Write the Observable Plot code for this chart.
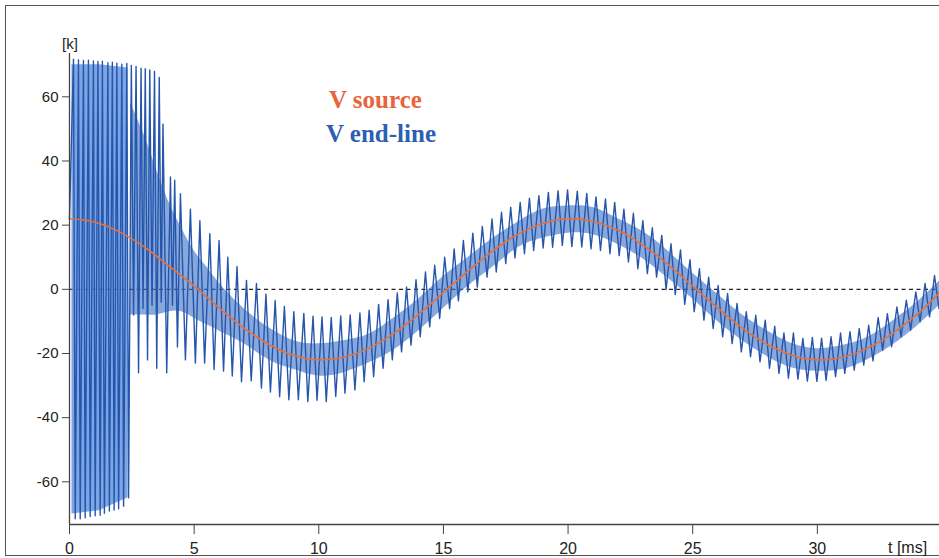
<!DOCTYPE html>
<html><head><meta charset="utf-8">
<script src="https://cdn.jsdelivr.net/npm/d3@7"></script>
<script src="https://cdn.jsdelivr.net/npm/@observablehq/plot@0.6"></script>
<style>
body{margin:0;background:#fff;}
#wrap{position:relative;width:939px;height:558px;overflow:hidden;font-family:"Liberation Sans",Arial,sans-serif;}
#frame{position:absolute;left:5px;top:5px;width:960px;height:549px;border:1.5px solid #555;border-right:none;}
.lg{position:absolute;font-family:"Liberation Serif","Times New Roman",serif;font-weight:bold;font-size:25px;line-height:1;white-space:nowrap;}
.ax{position:absolute;font-family:"Liberation Sans",Arial,sans-serif;line-height:1;color:#222;white-space:nowrap;}
#chart{position:absolute;left:0;top:0;}
</style></head><body>
<div id="wrap">
<div id="frame"></div>
<div id="chart"></div>
<div class="lg" style="left:329px;top:87px;color:#e8643c;">V source</div>
<div class="lg" style="left:326px;top:121px;color:#2d5fb0;">V end-line</div>
<div class="ax" style="left:62px;top:36px;font-size:15px;">[k]</div>
<div class="ax" style="left:888px;top:540px;font-size:16px;">t [ms]</div>
</div>
<script>
const xDomain = [0, 34.9];
const yDomain = [-73.3, 73.5];
const xTicks = [0, 5, 10, 15, 20, 25, 30];
const yTicks = [-60, -40, -20, 0, 20, 40, 60];

// V source (orange), read every 1 ms
const srcT = [0,1,2,3,4,5,6,7,8,9,10,11,12,13,14,15,16,17,18,19,20,21,22,23,24,25,26,27,28,29,30,31,32,33,34,34.9];
const srcV = [22.0,21.0,17.9,13.2,7.2,1.0,-5.8,-12.1,-17.2,-20.6,-22.0,-21.2,-18.4,-13.8,-7.8,-1.0,5.8,12.1,17.2,20.6,22.0,21.2,18.4,13.8,7.8,1.0,-5.8,-12.1,-17.2,-20.6,-22.0,-21.2,-18.4,-13.8,-7.8,-1.2];

// V end-line (blue): successive extremes
const blueT = [0,0.16,0.23,0.36,0.43,0.56,0.63,0.76,0.83,0.96,1.03,1.14,1.23,1.32,1.40,1.54,1.60,1.72,1.79,1.90,1.97,2.10,2.17,2.30,2.37,
2.48,2.57,2.67,2.77,2.87,2.95,3.04,3.13,3.22,3.31,3.41,3.50,3.60,3.68,3.75,3.90,4.05,4.13,4.22,4.33,4.45,
4.65,4.85,5.05,5.23,5.42,5.63,5.80,6.00,6.18,6.35,6.53,6.72,6.90,7.10,7.29,7.50,7.70,7.88,8.06,8.25,8.43,8.62,8.80,9.00,9.18,9.40,9.56,9.77,9.93,
10.13,10.30,10.50,10.68,10.88,11.05,11.26,11.45,11.65,11.82,12.02,12.20,12.40,12.58,12.78,12.95,13.15,13.32,13.52,13.70,13.90,14.07,14.28,14.45,14.65,14.85,
15.05,15.25,15.43,15.60,15.80,15.98,16.18,16.36,16.56,16.75,16.95,17.12,17.33,17.50,17.70,17.87,18.08,18.25,18.45,18.62,18.83,19.00,19.21,19.38,19.60,19.77,
19.98,20.15,20.37,20.55,20.75,20.92,21.12,21.30,21.50,21.68,21.87,22.05,22.24,22.42,22.62,22.80,23.00,23.18,23.38,23.55,23.76,23.93,24.13,24.30,24.51,24.68,
24.89,25.06,25.27,25.45,25.64,25.82,26.02,26.20,26.40,26.58,26.78,26.95,27.15,27.32,27.53,27.70,27.91,28.08,28.29,28.46,28.66,28.84,29.04,29.22,29.42,29.60,
29.80,29.98,30.17,30.35,30.55,30.73,30.93,31.10,31.31,31.48,31.68,31.86,32.06,32.23,32.44,32.62,32.81,32.98,33.19,33.36,33.57,33.74,33.95,34.12,34.32,34.50,34.70,34.88];
const blueV = [22,71.7,-71.5,71.5,-71.5,71.3,-71.2,71.4,-70.8,71.2,-70.6,71.0,-70.4,71.1,-69.8,70.6,-69.1,70.8,-68.8,70.5,-68.4,70.2,-67.6,70.4,-65.0,
69.8,-8,69.5,-26,68.9,-6,68.8,-22,68.4,-5,67.9,-24.6,66.0,-4,51.5,-26,35,-5,34,-18,29.8,
-22,25.0,-23,21.4,-23,17.3,-25,15.2,-25.5,10.0,-27,7.1,-28.8,2.8,-28.5,1.8,-30.8,-1.5,-32.0,-3.5,-33.5,-5.3,-34.4,-7.0,-34.4,-7.5,-35.0,-8.4,-34.6,
-8.6,-35.0,-8.8,-33.4,-8.3,-32.4,-8.0,-31.4,-7.4,-28.8,-6.5,-27.2,-4.7,-24.6,-3.2,-22.0,-1.1,-19.5,0.7,-17.4,3.0,-14.8,5.4,-11.7,7.5,-9.1,
10.0,-6.0,12.6,-3.6,15.2,-0.8,17.5,0.7,19.6,3.8,21.9,5.4,24.0,8.0,25.6,9.8,27.1,11.1,28.4,12.1,29.2,12.9,30.2,13.1,30.7,13.7,
31.0,13.3,30.6,13.2,29.9,12.6,28.8,12.1,28.2,11.1,27.1,10.5,25.0,8.5,23.7,6.4,21.4,4.9,19.2,3.8,16.8,-0.1,14.2,-1.6,12.3,-4.7,
9.2,-7.0,6.4,-9.6,3.8,-12.2,1.2,-14.8,-1.3,-16.9,-4.4,-19.5,-7.0,-21.0,-8.1,-22.6,-9.6,-24.6,-11.5,-26.2,-13.6,-27.7,-13.6,-28.0,-15.3,-28.6,
-15.0,-28.7,-15.2,-28.4,-14.8,-27.2,-13.6,-26.2,-13.2,-25.2,-12.2,-23.6,-11.2,-22.3,-8.8,-19.0,-7.6,-17.9,-5.5,-14.8,-3.4,-12.7,-0.8,-10.1,1.8,-8.6,4.3,-6.0];

// dense full-swing region of V end-line (lower / upper edge)
const earlyT  = [0.1, 1.2, 2.35];
const earlyLo = [-70, -69, -65];
const earlyHi = [70, 70, 69];

// dense fine oscillation band of V end-line (lower / upper edge)
const bandT  = [2.45,3.0,3.5,4.0,4.5,5.0,5.5,6.0,7,8,9,10,11,12,13,14,15,16,17,18,19,20,21,22,23,24,25,26,27,28,29,30,31,32,33,34,34.9];
const bandLo = [-8,-8,-8,-7,-7,-9,-11,-13,-17,-22,-25,-27,-26,-23,-19,-13,-6,1,7,13,16,17.5,17,14,9.5,3.5,-3,-10,-16,-21,-24.5,-25.5,-25,-22,-17.5,-11.5,-5];
const bandHi = [58,48,37,27,19,12,7,2,-6,-12,-16,-17,-16,-14,-9,-3,4,10,16,21,25,26,25.5,22,18,12,5,-1.5,-8,-13,-17,-18.5,-17.5,-15,-10,-4,2.5];

const srcRows = srcT.map((t, i) => ({t, v: srcV[i]}));
const blueRows = blueT.map((t, i) => ({t, v: blueV[i]}));
const earlyRows = earlyT.map((t, i) => ({t, lo: earlyLo[i], hi: earlyHi[i]}));
const bandRows = bandT.map((t, i) => ({t, lo: bandLo[i], hi: bandHi[i]}));
const fmt = d => String(d);

const chart = Plot.plot({
  width: 939, height: 558,
  marginLeft: 69, marginRight: 0, marginTop: 53, marginBottom: 34,
  style: {fontFamily: '"Liberation Sans", Arial, sans-serif', fontSize: "15px", color: "#222", background: "transparent", overflow: "visible"},
  x: {domain: xDomain, axis: null},
  y: {domain: yDomain, axis: null},
  marks: [
    Plot.ruleY([0], {stroke: "#222", strokeWidth: 1.2, strokeDasharray: "4,3.5"}),
    Plot.areaY(earlyRows, {x: "t", y1: "lo", y2: "hi", fill: "#5a8ede", fillOpacity: 0.8}),
    Plot.areaY(bandRows, {x: "t", y1: "lo", y2: "hi", fill: "#3d72c6", fillOpacity: 0.62, curve: "natural"}),
    Plot.line(blueRows, {x: "t", y: "v", stroke: "#2556ab", strokeWidth: 1.4}),
    Plot.line(srcRows, {x: "t", y: "v", stroke: "#e8703c", strokeWidth: 1.6, curve: "natural"}),
    Plot.ruleX([xDomain[0]], {stroke: "#444", strokeWidth: 1.3}),
    Plot.ruleY([yDomain[0]], {stroke: "#444", strokeWidth: 1.3}),
    Plot.axisY({ticks: yTicks, tickSize: 7, tickPadding: 4, tickFormat: fmt, fontSize: 15, label: null, stroke: "#444"}),
    Plot.axisX({ticks: xTicks, tickSize: 10, tickPadding: 8, tickFormat: fmt, fontSize: 16, label: null, stroke: "#444"})
  ]
});
document.getElementById("chart").appendChild(chart);
</script>
</body></html>
